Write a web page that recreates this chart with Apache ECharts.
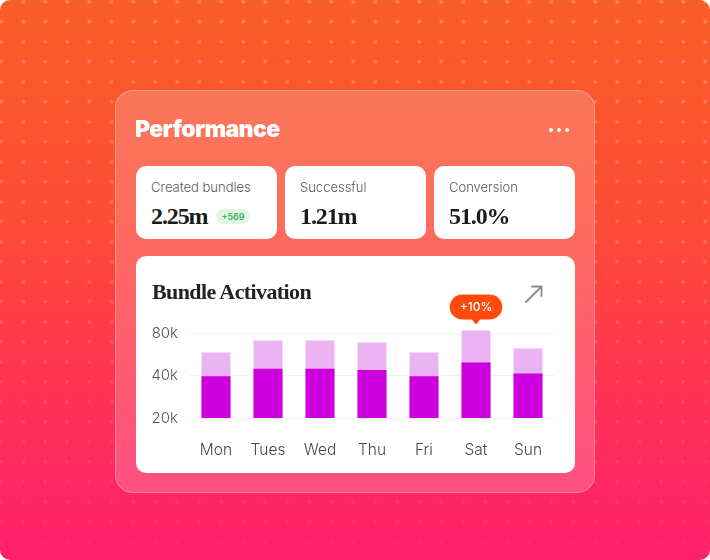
<!DOCTYPE html>
<html>
<head>
<meta charset="utf-8">
<script src="https://cdn.jsdelivr.net/npm/echarts@6/dist/echarts.min.js"></script>
<style>
  html, body { margin: 0; padding: 0; width: 710px; height: 560px; background: #ffffff; overflow: hidden; }
  #bg { position: absolute; left: 0; top: 0; width: 710px; height: 560px; border-radius: 10px; overflow: hidden;
        background: linear-gradient(180deg, #fa5e27 0%, #fd4b35 40%, #ff3450 66%, #ff1f6d 100%); }
  #dots { position: absolute; left: 0; top: 0; width: 710px; height: 560px;
          background-image: radial-gradient(circle, rgba(255,255,255,0.26) 1.4px, rgba(255,255,255,0) 2.2px);
          background-size: 22px 20px; background-position: -9.7px -8.3px;
          -webkit-mask-image: linear-gradient(180deg, #000 0%, rgba(0,0,0,0.7) 55%, rgba(0,0,0,0.12) 100%);
          mask-image: linear-gradient(180deg, #000 0%, rgba(0,0,0,0.7) 55%, rgba(0,0,0,0.12) 100%); }
  #panel { position: absolute; left: 115px; top: 90px; width: 478px; height: 401px; border-radius: 18px;
           background: rgba(255,228,236,0.22); border: 1px solid rgba(255,255,255,0.28);
           backdrop-filter: blur(10px); -webkit-backdrop-filter: blur(10px); }
  #title { position: absolute; left: 135px; top: 114px; font-family: Inter, "Noto Sans", sans-serif; font-weight: 900;
           font-size: 23px; line-height: 30px; color: #ffffff; letter-spacing: -0.6px; }
  .dot { position: absolute; top: 127.5px; width: 4px; height: 4px; border-radius: 2px; background: #fff; }
  .stat { position: absolute; top: 166px; width: 141px; height: 73px; border-radius: 10px; background: #fff; }
  .stat .lbl { position: absolute; left: 15px; top: 12px; font-family: Inter, "Noto Sans", sans-serif; font-weight: 300;
               font-size: 13px; line-height: 18px; color: #5a5a5a; white-space: nowrap; }
  .stat .val { position: absolute; left: 15px; top: 35px; font-family: "Liberation Serif", serif; font-weight: 700;
               font-size: 24px; line-height: 30px; color: #1b1b1b; letter-spacing: -1.1px; white-space: nowrap; }
  .stat .chip { display: inline-block; vertical-align: 4px; margin-left: 8px; padding: 0 6px; height: 15px; line-height: 15px;
                border-radius: 8px; background: #e1f5e3; color: #2aa84a; font-family: Inter, sans-serif; font-size: 9px;
                font-weight: 500; letter-spacing: 0; }
  #card { position: absolute; left: 136px; top: 256px; width: 439px; height: 217px; border-radius: 10px; background: #fff; }
  #chart { position: absolute; left: 136px; top: 256px; width: 439px; height: 217px; }
  #ctitle { position: absolute; left: 152px; top: 279px; font-family: "Liberation Serif", serif; font-weight: 700;
            font-size: 22px; line-height: 26px; color: #222; letter-spacing: -0.6px; white-space: nowrap; }
  #arrow { position: absolute; left: 522px; top: 282px; }
</style>
</head>
<body>
<div id="bg"><div id="dots"></div></div>
<div id="panel"></div>
<div id="title">Performance</div>
<div class="dot" style="left:549px"></div>
<div class="dot" style="left:557px"></div>
<div class="dot" style="left:565px"></div>
<div id="stats"></div>
<div id="card"></div>
<div id="chart"></div>
<div id="ctitle">Bundle Activation</div>
<svg id="arrow" width="24" height="24" viewBox="0 0 24 24">
  <path d="M4 20 L19 5 M10 4.5 L19.5 4.5 L19.5 14" fill="none" stroke="#8c8c8c" stroke-width="1.8" stroke-linecap="round" stroke-linejoin="round"/>
</svg>
<script>
// ---- data ----
const statLabels = ['Created bundles', 'Successful', 'Conversion'];
const statValues = ['2.25m', '1.21m', '51.0%'];
const statChips  = ['+569', '', ''];

const days       = ['Mon', 'Tues', 'Wed', 'Thu', 'Fri', 'Sat', 'Sun'];
const successful = [39500, 44800, 44800, 43800, 39500, 49600, 41300];
const created    = [58400, 71000, 71000, 68700, 58400, 83600, 62300];
const yTicks     = [20000, 40000, 80000];
const badgeDay   = 'Sat';
const badgeText  = '+10%';

// ---- stat cards ----
const statLeft = [136, 285, 434];
const statsEl = document.getElementById('stats');
statLabels.forEach((l, i) => {
  const d = document.createElement('div');
  d.className = 'stat';
  d.style.left = statLeft[i] + 'px';
  const lbl = document.createElement('div'); lbl.className = 'lbl'; lbl.textContent = l;
  const val = document.createElement('div'); val.className = 'val'; val.textContent = statValues[i];
  if (statChips[i]) { const c = document.createElement('span'); c.className = 'chip'; c.textContent = statChips[i]; val.appendChild(c); }
  d.appendChild(lbl); d.appendChild(val); statsEl.appendChild(d);
});

// ---- chart ----
const badgeIdx = days.indexOf(badgeDay);
const badgeColor = '#ff4a0c';
const chart = echarts.init(document.getElementById('chart'));
chart.setOption({
  animation: false,
  grid: { left: 54, width: 364, top: 66, height: 96 },
  xAxis: {
    type: 'category', data: days,
    axisLine: { show: false }, axisTick: { show: false },
    axisLabel: { color: '#474747', fontSize: 15.5, fontFamily: 'Inter', fontWeight: 300, margin: 24 }
  },
  yAxis: {
    type: 'log', logBase: 2, min: yTicks[0], max: 96000,
    axisLine: { show: false },
    axisTick: { show: false, customValues: yTicks },
    axisLabel: { customValues: yTicks, formatter: v => (v / 1000) + 'k', color: '#555', fontSize: 15,
                 fontFamily: 'Inter', fontWeight: 300, margin: 12 },
    splitLine: { show: true, lineStyle: { color: '#f0f0f0', width: 1 } }
  },
  series: [
    {
      type: 'bar', name: 'Created', barWidth: 29, barGap: '-100%', clip: true,
      itemStyle: { color: '#ecb3f2' },
      data: created.map((v, i) => i === badgeIdx ? {
        value: v,
        label: { show: true, position: 'top', distance: 11, formatter: badgeText, color: '#fff',
                 backgroundColor: badgeColor, fontSize: 12, fontFamily: 'Inter', fontWeight: 500,
                 lineHeight: 13, padding: [6, 10], borderRadius: 13 }
      } : v),
      markPoint: {
        symbol: 'triangle', symbolSize: [10, 6], symbolRotate: 180, symbolOffset: [0, -9],
        itemStyle: { color: badgeColor }, label: { show: false },
        data: [{ coord: [badgeDay, created[badgeIdx]] }]
      }
    },
    {
      type: 'bar', name: 'Successful', barWidth: 29, barGap: '-100%', clip: true,
      itemStyle: { color: '#cb00dc' },
      data: successful
    }
  ]
});
</script>
</body>
</html>
